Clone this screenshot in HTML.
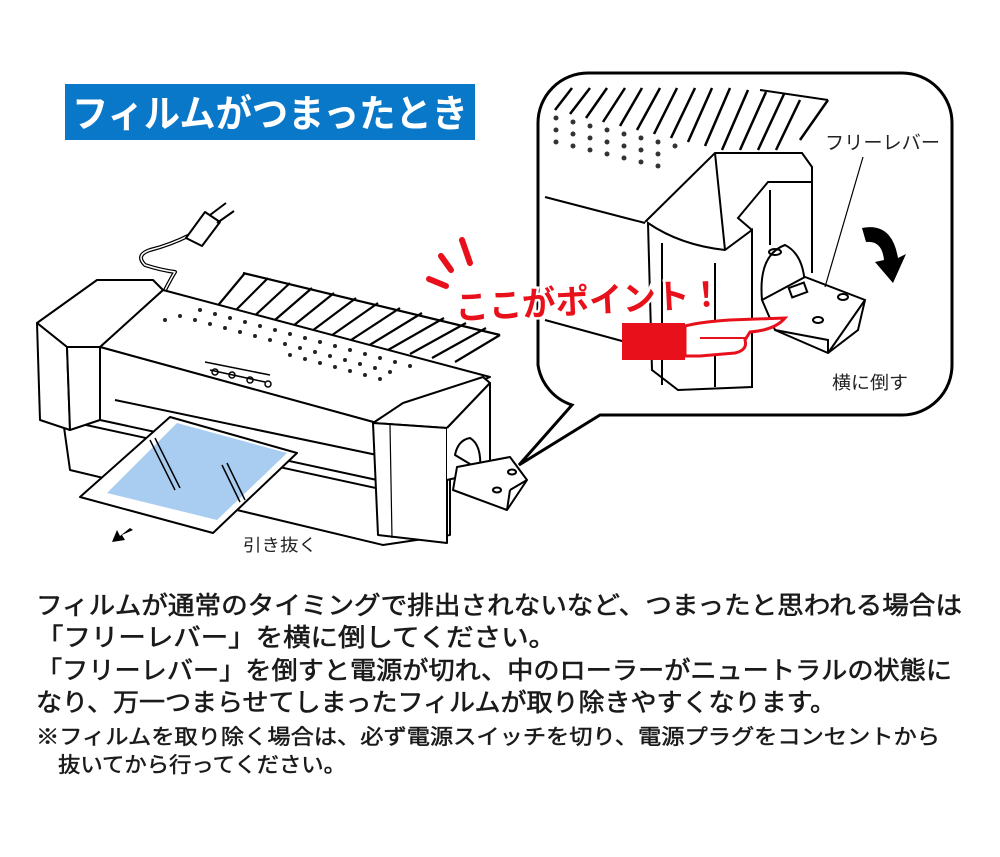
<!DOCTYPE html>
<html><head><meta charset="utf-8"><style>
html,body{margin:0;padding:0;background:#fff;}
svg{display:block}
text{font-family:"Liberation Sans","Noto Sans CJK JP",sans-serif;}
</style></head><body>
<svg width="1000" height="857" viewBox="0 0 1000 857" xmlns="http://www.w3.org/2000/svg">
<rect x="0" y="0" width="1000" height="857" fill="#fff"/>
<!-- title -->
<rect x="65" y="84" width="410" height="56" fill="#0a78c8"/>
<text x="72" y="127" font-size="38" font-weight="bold" fill="#fff" textLength="396" lengthAdjust="spacingAndGlyphs">フィルムがつまったとき</text>

<!-- callout -->
<path d="M590,73 H902 A50,50 0 0 1 952,123 V365 A50,50 0 0 1 902,415 H600 L519,465 L572,405 A50,50 0 0 1 538,365 V123 A50,50 0 0 1 588,73 Z" fill="#fff" stroke="#000" stroke-width="3"/>
<clipPath id="cl"><path d="M590,75 H902 A48,48 0 0 1 950,123 V365 A48,48 0 0 1 902,413 H600 L575,405 A48,48 0 0 1 540,365 V123 A48,48 0 0 1 588,75 Z"/></clipPath>
<g clip-path="url(#cl)" stroke="#000" stroke-width="2" fill="none">
  <g stroke-width="2.5">
  <line x1="555" y1="110" x2="572" y2="88"/><line x1="570" y1="114" x2="590" y2="88"/>
  <line x1="586" y1="118" x2="607" y2="88"/><line x1="603" y1="122" x2="625" y2="88"/>
  <line x1="620" y1="126" x2="642" y2="88"/><line x1="637" y1="130" x2="660" y2="88"/>
  <line x1="654" y1="134" x2="677" y2="88"/><line x1="671" y1="138" x2="695" y2="88"/>
  <line x1="688" y1="142" x2="712" y2="88"/><line x1="705" y1="146" x2="730" y2="88"/>
  <line x1="722" y1="150" x2="748" y2="90"/><line x1="740" y1="150" x2="766" y2="92"/>
  <line x1="758" y1="150" x2="784" y2="94"/><line x1="776" y1="150" x2="800" y2="100"/>
  <line x1="800" y1="140" x2="828" y2="100"/>
  </g>
  <line x1="760" y1="90" x2="828" y2="100"/>
  <g fill="#333" stroke="none">
  <circle cx="556" cy="118" r="2.5"/><circle cx="573" cy="122" r="2.5"/><circle cx="590" cy="126" r="2.5"/>
  <circle cx="556" cy="130" r="2.5"/><circle cx="573" cy="134" r="2.5"/><circle cx="590" cy="138" r="2.5"/><circle cx="607" cy="142" r="2.5"/><circle cx="624" cy="146" r="2.5"/>
  <circle cx="556" cy="142" r="2.5"/><circle cx="573" cy="146" r="2.5"/><circle cx="590" cy="150" r="2.5"/><circle cx="607" cy="154" r="2.5"/><circle cx="624" cy="158" r="2.5"/><circle cx="641" cy="150" r="2.5"/><circle cx="658" cy="154" r="2.5"/>
  <circle cx="607" cy="130" r="2.5"/><circle cx="624" cy="134" r="2.5"/><circle cx="641" cy="138" r="2.5"/><circle cx="658" cy="142" r="2.5"/><circle cx="675" cy="146" r="2.5"/>
  <circle cx="641" cy="162" r="2.5"/><circle cx="658" cy="166" r="2.5"/>
  </g>
  <line x1="545" y1="197" x2="645" y2="223"/>
  <line x1="545" y1="320" x2="655" y2="350"/>
  <path d="M645,222 L715,153 L802,153 L812,167 L812,273" fill="#fff"/>
  <path d="M648,223 Q680,245 725,250 L752,230 L752,387 L678,390 L652,370 Z" fill="#fff"/>
  <path d="M725,250 L715,153" />
  <path d="M752,230 L738,218 L768,182 L812,182"/>
  <line x1="662" y1="243" x2="662" y2="385"/><line x1="715" y1="263" x2="715" y2="387"/>
  <line x1="770" y1="190" x2="770" y2="245"/>
  <path d="M762,300 Q758,255 785,245 Q805,255 805,290" fill="#fff"/>
  <ellipse cx="775" cy="252" rx="6" ry="3"/>
  <path d="M762,300 L805,277 L865,300 L858,330 L828,353 L775,330 Z" fill="#fff"/>
  <path d="M828,353 L865,300"/><path d="M775,330 L828,340 L828,353"/>
  <rect x="790" y="285" width="16" height="10" transform="rotate(-20 798 290)"/>
  <ellipse cx="843" cy="297" rx="5" ry="3"/><ellipse cx="818" cy="320" rx="5" ry="3"/>
  <line x1="863" y1="157" x2="825" y2="287" stroke-width="1.2"/>
</g>
<path d="M862,228 Q892,222 898,258 L906,254 L893,283 L875,262 L884,260 Q882,240 866,242 Z" fill="#000"/>
<text x="825" y="149" font-size="19" fill="#222" textLength="115" lengthAdjust="spacingAndGlyphs">フリーレバー</text>
<text x="832" y="389" font-size="18" fill="#222" textLength="76" lengthAdjust="spacingAndGlyphs">横に倒す</text>

<!-- main laminator -->
<g stroke="#000" stroke-width="2" fill="#fff" stroke-linejoin="round">
  <path d="M160,300 Q170,280 175,272 Q160,270 145,265 Q135,255 150,250 Q170,245 190,235" fill="none" stroke-width="4"/>
  <path d="M160,300 Q170,280 175,272 Q160,270 145,265 Q135,255 150,250 Q170,245 190,235" fill="none" stroke="#fff" stroke-width="1.5"/>
  <path d="M186,238 L205,212 L220,222 L202,246 Z"/>
  <line x1="210" y1="215" x2="226" y2="203"/><line x1="217" y1="223" x2="234" y2="211"/>
  <g stroke-width="2.2" fill="none">
  <line x1="243" y1="273" x2="500" y2="335"/>
  <line x1="210" y1="315" x2="245" y2="273"/><line x1="228" y1="318" x2="268" y2="278"/>
  <line x1="248" y1="322" x2="290" y2="283"/><line x1="268" y1="326" x2="312" y2="288"/>
  <line x1="288" y1="330" x2="334" y2="293"/><line x1="308" y1="334" x2="356" y2="298"/>
  <line x1="328" y1="338" x2="378" y2="303"/><line x1="348" y1="342" x2="400" y2="308"/>
  <line x1="368" y1="346" x2="422" y2="313"/><line x1="388" y1="350" x2="444" y2="318"/>
  <line x1="410" y1="354" x2="466" y2="323"/><line x1="432" y1="358" x2="486" y2="328"/>
  <line x1="455" y1="362" x2="500" y2="335"/>
  </g>
  <path d="M63,420 L385,490 L450,470 L450,535 L383,545 L70,470 Z"/>
  <line x1="95" y1="415" x2="385" y2="470" stroke-width="1.5"/>
  <path d="M100,347 L163,290 L490,377 L377,423 Z"/>
  <path d="M100,347 L377,423 L377,480 L100,420 Z"/>
  <line x1="115" y1="400" x2="377" y2="455"/>
  <path d="M37,323 L97,280 L153,280 L163,290 L100,347 L67,347 Z"/>
  <path d="M37,323 L67,347 L70,430 L40,420 Z"/>
  <path d="M67,347 L100,347 L100,420 L70,430 Z"/>
  <path d="M373,423 L403,403 L483,377 L490,383 L447,428 Z"/>
  <path d="M373,423 L447,428 L447,543 L378,535 Z"/>
  <line x1="390" y1="425" x2="392" y2="538" stroke-width="1.2"/>
  <path d="M447,428 L490,383 L490,470 L447,480"/>
  <path d="M80,497 L170,417 L297,453 L213,533 Z"/>
  <path d="M107,493 L177,423 L287,453 L217,520 Z" fill="#a9cdf0" stroke="none"/>
  <g fill="none" stroke-width="1.5">
  <line x1="150" y1="440" x2="175" y2="490"/><line x1="155" y1="438" x2="180" y2="488"/>
  <line x1="222" y1="465" x2="240" y2="502"/><line x1="227" y1="463" x2="245" y2="500"/>
  </g>
  <path d="M455,455 Q458,440 470,438 Q482,445 480,470 Z"/>
  <path d="M457,467 L510,457 L527,480 L507,510 L453,490 Z"/>
  <line x1="507" y1="510" x2="510" y2="490" /><line x1="510" y1="490" x2="527" y2="480"/>
  <ellipse cx="512" cy="472" rx="4" ry="2.5" fill="none"/><ellipse cx="497" cy="490" rx="4" ry="2.5" fill="none"/>
</g>
<g fill="#222">
  <circle cx="165" cy="320" r="2"/><circle cx="180" cy="316" r="2"/><circle cx="195" cy="320" r="2"/><circle cx="210" cy="324" r="2"/><circle cx="225" cy="328" r="2"/><circle cx="240" cy="332" r="2"/><circle cx="255" cy="336" r="2"/><circle cx="270" cy="340" r="2"/><circle cx="285" cy="344" r="2"/><circle cx="300" cy="348" r="2"/><circle cx="315" cy="352" r="2"/><circle cx="330" cy="356" r="2"/><circle cx="345" cy="360" r="2"/><circle cx="360" cy="364" r="2"/><circle cx="375" cy="368" r="2"/><circle cx="390" cy="372" r="2"/>
  <circle cx="200" cy="310" r="2"/><circle cx="215" cy="314" r="2"/><circle cx="230" cy="318" r="2"/><circle cx="245" cy="322" r="2"/><circle cx="260" cy="326" r="2"/><circle cx="275" cy="330" r="2"/><circle cx="290" cy="334" r="2"/><circle cx="305" cy="338" r="2"/><circle cx="320" cy="342" r="2"/><circle cx="335" cy="346" r="2"/><circle cx="350" cy="350" r="2"/><circle cx="365" cy="354" r="2"/><circle cx="380" cy="358" r="2"/><circle cx="395" cy="362" r="2"/><circle cx="410" cy="366" r="2"/>
  <circle cx="290" cy="355" r="2"/><circle cx="305" cy="359" r="2"/><circle cx="320" cy="363" r="2"/><circle cx="335" cy="367" r="2"/><circle cx="350" cy="371" r="2"/><circle cx="365" cy="375" r="2"/><circle cx="380" cy="379" r="2"/>
</g>
<g stroke="#000" stroke-width="1.5" fill="none">
  <path d="M205,362 L270,375 M210,370 L265,382"/>
  <circle cx="215" cy="372" r="3"/><circle cx="232" cy="375" r="3"/><circle cx="250" cy="380" r="3"/><circle cx="268" cy="384" r="3"/>
</g>
<path d="M130,528 L120,536 L117,530 L112,542 L125,540 L122,535 L133,530 Z" fill="#000"/>
<text x="243" y="551" font-size="17" fill="#222" textLength="74" lengthAdjust="spacingAndGlyphs">引き抜く</text>

<g stroke="#e8101a" stroke-width="6" stroke-linecap="round">
  <line x1="462" y1="240" x2="470" y2="263"/>
  <line x1="441" y1="256" x2="451" y2="270"/>
  <line x1="429" y1="279" x2="446" y2="286"/>
</g>
<g transform="rotate(-3 585 300)">
<text x="455" y="313" font-size="34" font-weight="bold" fill="#e8101a" stroke="#fff" stroke-width="5" paint-order="stroke" textLength="268" lengthAdjust="spacingAndGlyphs">ここがポイント！</text>
</g>
<rect x="622" y="323" width="63" height="37" fill="#e8101a"/>
<path d="M685,326 Q700,322 730,320 L785,318 Q775,330 750,332 L745,340 Q748,350 735,353 L700,356 L685,356 Z" fill="#fff" stroke="#e8101a" stroke-width="3"/>
<line x1="700" y1="338" x2="745" y2="338" stroke="#e8101a" stroke-width="2"/>

<g fill="#1a1a1a" stroke="#1a1a1a" stroke-width="0.6" font-size="25">
<text x="36" y="614" textLength="926" lengthAdjust="spacingAndGlyphs">フィルムが通常のタイミングで排出されないなど、つまったと思われる場合は</text>
<text x="36" y="646" textLength="520" lengthAdjust="spacingAndGlyphs">「フリーレバー」を横に倒してください。</text>
<text x="36" y="679" textLength="916" lengthAdjust="spacingAndGlyphs">「フリーレバー」を倒すと電源が切れ、中のローラーがニュートラルの状態に</text>
<text x="36" y="711" textLength="800" lengthAdjust="spacingAndGlyphs">なり、万一つまらせてしまったフィルムが取り除きやすくなります。</text>
</g>
<g fill="#1a1a1a" stroke="#1a1a1a" stroke-width="0.5" font-size="21">
<text x="36" y="744" textLength="904" lengthAdjust="spacingAndGlyphs">※フィルムを取り除く場合は、必ず電源スイッチを切り、電源プラグをコンセントから</text>
<text x="58" y="772" textLength="288" lengthAdjust="spacingAndGlyphs">抜いてから行ってください。</text>
</g>
</svg>
</body></html>
